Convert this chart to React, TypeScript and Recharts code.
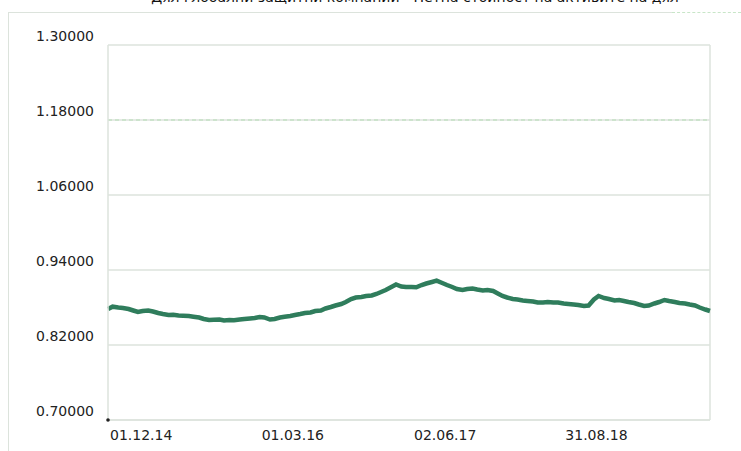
import React from 'react'
import { LineChart, Line, XAxis, YAxis, CartesianGrid, ReferenceLine, ReferenceDot } from 'recharts'

const title = 'Дял глобални защитни компании - Нетна стойност на активите на дял'

const dates = [
  '01.12.14', '15.12.14',
  '01.01.15', '15.01.15', '01.02.15', '15.02.15', '01.03.15', '15.03.15', '01.04.15', '15.04.15',
  '01.05.15', '15.05.15', '01.06.15', '15.06.15', '01.07.15', '15.07.15', '01.08.15', '15.08.15',
  '01.09.15', '15.09.15', '01.10.15', '15.10.15', '01.11.15', '15.11.15', '01.12.15', '15.12.15',
  '01.01.16', '15.01.16', '01.02.16', '15.02.16', '01.03.16', '15.03.16', '01.04.16', '15.04.16',
  '01.05.16', '15.05.16', '01.06.16', '15.06.16', '01.07.16', '15.07.16', '01.08.16', '15.08.16',
  '01.09.16', '15.09.16', '01.10.16', '15.10.16', '01.11.16', '15.11.16', '01.12.16', '15.12.16',
  '01.01.17', '15.01.17', '01.02.17', '15.02.17', '01.03.17', '15.03.17', '01.04.17', '15.04.17',
  '01.05.17', '15.05.17', '01.06.17', '15.06.17', '01.07.17', '15.07.17', '01.08.17', '15.08.17',
  '01.09.17', '15.09.17', '01.10.17', '15.10.17', '01.11.17', '15.11.17', '01.12.17', '15.12.17',
  '01.01.18', '15.01.18', '01.02.18', '15.02.18', '01.03.18', '15.03.18', '01.04.18', '15.04.18',
  '01.05.18', '15.05.18', '01.06.18', '15.06.18', '01.07.18', '15.07.18', '01.08.18', '15.08.18',
  '01.09.18', '15.09.18', '01.10.18', '15.10.18', '01.11.18', '15.11.18', '01.12.18', '15.12.18',
  '01.01.19', '15.01.19', '01.02.19', '15.02.19', '01.03.19', '15.03.19', '01.04.19', '15.04.19',
  '01.05.19', '15.05.19', '01.06.19', '15.06.19', '01.07.19', '15.07.19', '01.08.19', '15.08.19',
  '01.09.19', '15.09.19', '01.10.19', '15.10.19', '01.11.19', '15.11.19',
]

const nav = [
  0.8776, 0.8813,
  0.8800, 0.8792, 0.8776, 0.8752, 0.8728, 0.8744, 0.8752, 0.8736,
  0.8712, 0.8696, 0.8680, 0.8684, 0.8672, 0.8669, 0.8664, 0.8653,
  0.8640, 0.8616, 0.8600, 0.8604, 0.8608, 0.8592, 0.8600, 0.8596,
  0.8608, 0.8616, 0.8624, 0.8632, 0.8648, 0.8640, 0.8608, 0.8616,
  0.8640, 0.8653, 0.8664, 0.8680, 0.8696, 0.8712, 0.8720, 0.8744,
  0.8752, 0.8784, 0.8808, 0.8832, 0.8856, 0.8888, 0.8936, 0.8960,
  0.8968, 0.8984, 0.8992, 0.9016, 0.9048, 0.9080, 0.9128, 0.9168,
  0.9136, 0.9128, 0.9128, 0.9123, 0.9160, 0.9184, 0.9208, 0.9229,
  0.9192, 0.9160, 0.9128, 0.9096, 0.9080, 0.9096, 0.9104, 0.9088,
  0.9072, 0.9080, 0.9064, 0.9024, 0.8984, 0.8960, 0.8936, 0.8928,
  0.8912, 0.8904, 0.8896, 0.8880, 0.8880, 0.8888, 0.8880, 0.8880,
  0.8864, 0.8856, 0.8848, 0.8840, 0.8824, 0.8832, 0.8928, 0.8984,
  0.8952, 0.8936, 0.8912, 0.8920, 0.8904, 0.8888, 0.8872, 0.8848,
  0.8824, 0.8832, 0.8864, 0.8888, 0.8920, 0.8904, 0.8888, 0.8872,
  0.8864, 0.8848, 0.8832, 0.8800, 0.8768, 0.8744,
]

const xTickDates = ['01.12.14', '01.03.16', '02.06.17', '31.08.18']
const yTicks = [0.7, 0.82, 0.94, 1.06, 1.18, 1.3]

const toTs = (s: string) => {
  const [d, m, y] = s.split('.').map(Number)
  return new Date(2000 + y, m - 1, d).getTime()
}

const data = dates.map((d, i) => ({ t: toTs(d), nav: nav[i] }))
const xTicks = xTickDates.map(toTs)
const first = data[0].t
const last = data[data.length - 1].t

const font = '"DejaVu Sans", Verdana, sans-serif'
const gridColor = '#dce3dc'

const fmtDate = (ts: number) => {
  const d = new Date(ts)
  const p = (n: number) => String(n).padStart(2, '0')
  return `${p(d.getDate())}.${p(d.getMonth() + 1)}.${p(d.getFullYear() % 100)}`
}

const XTick = ({ x, y, payload }: any) => (
  <text x={x + 2} y={y + 12} textAnchor="start" fontSize={14} fontFamily={font} fill="#222">
    {fmtDate(payload.value)}
  </text>
)

const YTick = ({ x, y, payload }: any) => (
  <text x={x - 6} y={y - 4} textAnchor="end" fontSize={14} fontFamily={font} fill="#222">
    {payload.value.toFixed(5)}
  </text>
)

export default function App() {
  return (
    <div style={{ position: 'absolute', left: 0, top: 0, width: 741, height: 451, background: '#fff', overflow: 'hidden' }}>
      <div
        style={{
          position: 'absolute', left: 0, top: -11, width: 830, textAlign: 'center',
          fontFamily: font, fontSize: 14, color: '#111', whiteSpace: 'nowrap',
        }}
      >
        {title}
      </div>
      <div style={{ position: 'absolute', left: 8, top: 12, width: 664, height: 440, borderLeft: `1.5px solid ${gridColor}`, borderTop: `1.5px solid ${gridColor}` }} />
      <div style={{ position: 'absolute', left: 672, top: 12, width: 69, borderTop: '1px dashed #c8e6c8' }} />
      <div style={{ position: 'absolute', left: 0, top: 0 }}>
        <LineChart width={741} height={451} data={data} margin={{ top: 45, right: 31, bottom: 0, left: 0 }}>
          <CartesianGrid vertical={false} stroke={gridColor} strokeWidth={1.5} />
          <XAxis
            dataKey="t"
            type="number"
            scale="time"
            domain={[first, last]}
            ticks={xTicks}
            tick={<XTick />}
            tickLine={false}
            axisLine={{ stroke: gridColor, strokeWidth: 1.5 }}
            height={31}
            interval={0}
          />
          <YAxis
            domain={[0.7, 1.3]}
            ticks={yTicks}
            tick={<YTick />}
            tickLine={false}
            axisLine={{ stroke: gridColor, strokeWidth: 1.5 }}
            width={108}
            interval={0}
          />
          <ReferenceLine y={1.18} stroke="#b5dcb5" strokeDasharray="4 3" />
          <ReferenceLine x={last} stroke={gridColor} strokeWidth={1.5} />
          <Line
            dataKey="nav"
            stroke="#2f7d5c"
            strokeWidth={4.5}
            dot={false}
            isAnimationActive={false}
          />
          <ReferenceDot x={first} y={0.7} r={1.8} fill="#222" stroke="none" />
        </LineChart>
      </div>
    </div>
  )
}
